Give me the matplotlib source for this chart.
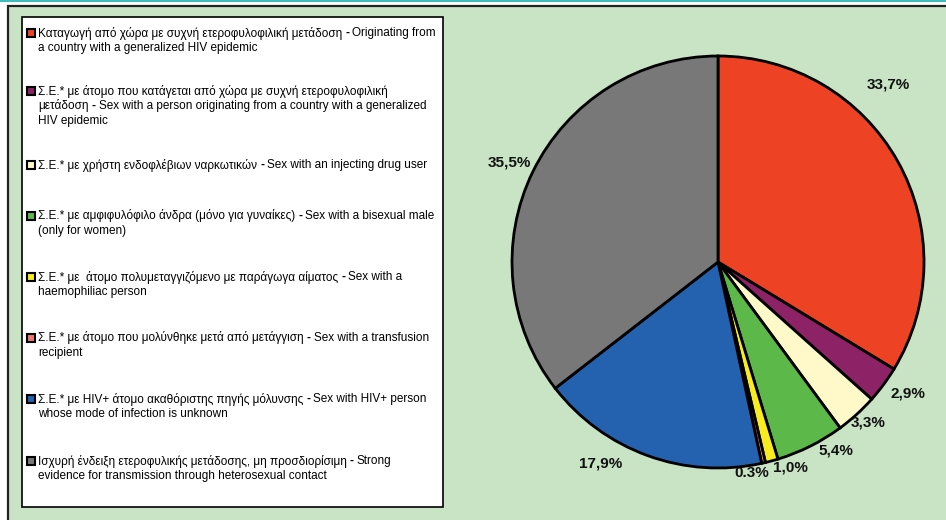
import matplotlib
matplotlib.use("Agg")
import matplotlib.pyplot as plt
from matplotlib.patches import Rectangle

# data
values = [33.7, 2.9, 3.3, 5.4, 1.0, 0.3, 17.9, 35.5]
pct_labels = ["33,7%", "2,9%", "3,3%", "5,4%", "1,0%", "0.3%", "17,9%", "35,5%"]
colors = ["#ee4224", "#8e2266", "#fff8c8", "#5cb848", "#f8ec20", "#f07870", "#2462b0", "#787878"]
legend_lines = [
    ["Καταγωγή από χώρα με συχνή ετεροφυλοφιλική μετάδοση - Originating from",
     "a country with a generalized HIV epidemic"],
    ["Σ.Ε.* με άτομο που κατάγεται από χώρα με συχνή ετεροφυλοφιλική",
     "μετάδοση - Sex with a person originating from a country with a generalized",
     "HIV epidemic"],
    ["Σ.Ε.* με χρήστη ενδοφλέβιων ναρκωτικών - Sex with an injecting drug user"],
    ["Σ.Ε.* με αμφιφυλόφιλο άνδρα (μόνο για γυναίκες) - Sex with a bisexual male",
     "(only for women)"],
    ["Σ.Ε.* με  άτομο πολυμεταγγιζόμενο με παράγωγα αίματος - Sex with a",
     "haemophiliac person"],
    ["Σ.Ε.* με άτομο που μολύνθηκε μετά από μετάγγιση - Sex with a transfusion",
     "recipient"],
    ["Σ.Ε.* με HIV+ άτομο ακαθόριστης πηγής μόλυνσης - Sex with HIV+ person",
     "whose mode of infection is unknown"],
    ["Ισχυρή ένδειξη ετεροφυλικής μετάδοσης, μη προσδιορίσιμη - Strong",
     "evidence for transmission through heterosexual contact"],
]

# layout (pixels)
W, H = 946, 520
legend_y = [33, 91, 165, 216, 277, 338, 399, 461]
line_h = 15
# label positions around the pie, in radius units
label_pos = [(0.825, 0.864), (0.922, -0.636), (0.728, -0.777), (0.573, -0.913),
             (0.350, -1.0), (0.165, -1.024), (-0.568, -0.976), (-1.015, 0.485)]
cx, cy, r = 718, 262, 206

plt.rcParams['font.family'] = ['Liberation Sans', 'DejaVu Sans']

fig = plt.figure(figsize=(W / 100, H / 100), dpi=100)
fig.patch.set_facecolor('white')

bg = fig.add_axes([0, 0, 1, 1])
bg.set_xlim(0, W)
bg.set_ylim(H, 0)
bg.axis('off')
bg.add_patch(Rectangle((0, 0), W, 1.8, color='#40bcbc', lw=0))
bg.add_patch(Rectangle((8, 5.5), W + 10, H + 10, facecolor='#c8e4c4', edgecolor='#222222', lw=1.6))
bg.add_patch(Rectangle((22, 17), 421, 490, facecolor='white', edgecolor='black', lw=1.2))

fig.canvas.draw()
renderer = fig.canvas.get_renderer()
fs = 8.5


def draw_line(x, y, s):
    parts = s.split(" - ", 1)
    if len(parts) == 1:
        bg.text(x, y, s, fontsize=fs, va='center', ha='left')
        return
    segs = [(parts[0], 'normal', 3), ("-", 'bold', 3), (parts[1], 'normal', 0)]
    for txt, wt, gap in segs:
        t = bg.text(x, y, txt, fontsize=fs, va='center', ha='left', fontweight=wt)
        x += t.get_window_extent(renderer).width + gap


for i, lines in enumerate(legend_lines):
    y0 = legend_y[i]
    bg.add_patch(Rectangle((27, y0 - 4), 8, 8, facecolor=colors[i], edgecolor='black', lw=1.5))
    for j, s in enumerate(lines):
        draw_line(38, y0 + j * line_h, s)

# pie
half = 260
ax = fig.add_axes([(cx - half) / W, (H - cy - half) / H, 2 * half / W, 2 * half / H])
ax.pie(values, colors=colors, startangle=90, counterclock=False,
       wedgeprops=dict(edgecolor='black', linewidth=2))
lim = half / r
ax.set_xlim(-lim, lim)
ax.set_ylim(-lim, lim)
ax.axis('off')
for (lx, ly), lab in zip(label_pos, pct_labels):
    ax.text(lx, ly, lab, fontsize=11, fontweight='bold', ha='center', va='center',
            color='#111111')

fig.savefig('out.png', dpi=100, facecolor=fig.get_facecolor())
